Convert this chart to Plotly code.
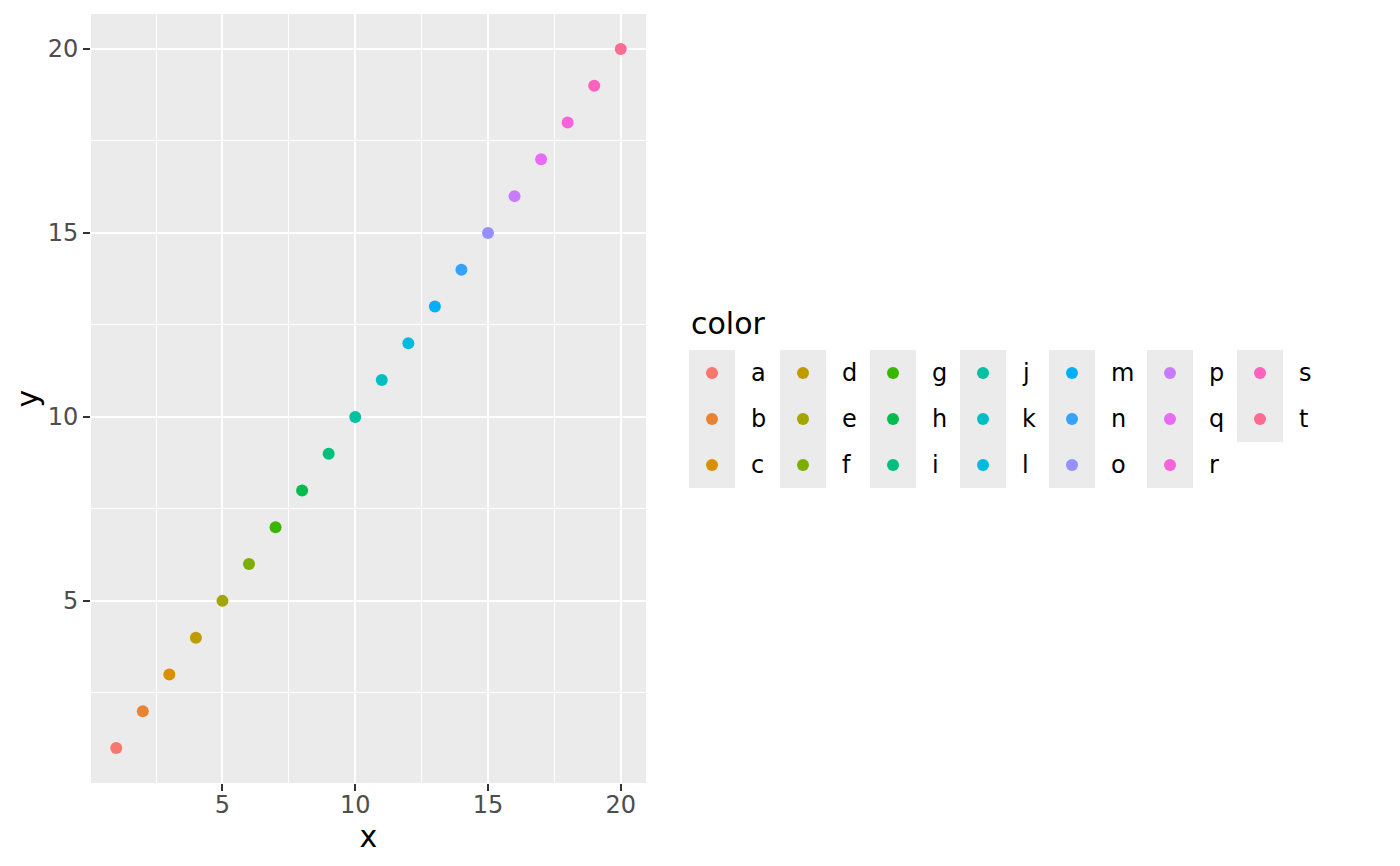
import plotly.graph_objects as go

# the page body adds an 8px margin, so the figure is 16px smaller than the window
OFF = 8
W, H = 1400 - 2 * OFF, 866 - 2 * OFF

# data
x_vals = [1, 2, 3, 4, 5, 6, 7, 8, 9, 10, 11, 12, 13, 14, 15, 16, 17, 18, 19, 20]
y_vals = [1, 2, 3, 4, 5, 6, 7, 8, 9, 10, 11, 12, 13, 14, 15, 16, 17, 18, 19, 20]
color_labels = ["a", "b", "c", "d", "e", "f", "g", "h", "i", "j",
                "k", "l", "m", "n", "o", "p", "q", "r", "s", "t"]
# ggplot2 default hue palette for 20 levels
hue_colors = ["#F8766D", "#EA8331", "#D89000", "#C09B00", "#A3A500",
              "#7CAE00", "#39B600", "#00BB4E", "#00BF7D", "#00C1A3",
              "#00BFC4", "#00BAE0", "#00B0F6", "#35A2FF", "#9590FF",
              "#C77CFF", "#E76BF3", "#FA62DB", "#FF62BC", "#FF6C91"]
x_ticks = [5, 10, 15, 20]
y_ticks = [5, 10, 15, 20]
x_minor = [2.5, 7.5, 12.5, 17.5]
y_minor = [2.5, 7.5, 12.5, 17.5]
x_range = [0.05, 20.95]
y_range = [0.05, 20.95]

# layout (pixels, measured on the 1400x866 page, shifted by OFF)
PL, PR, PT, PB = 91 - OFF, 646 - OFF, 14 - OFF, 783 - OFF
FONT = "DejaVu Sans"
PANEL = "#EBEBEB"
LEG_COL_LEFT = [c - OFF for c in [689, 780, 870, 960, 1049, 1147, 1237]]
LEG_TOP = 350 - OFF
LEG_TITLE_Y = 323 - OFF
KEY = 46
N_ROWS = 3
LABEL_GAP = 14

color_map = dict(zip(color_labels, hue_colors))

fig = go.Figure()

fig.add_trace(go.Scatter(
    x=x_vals, y=y_vals,
    mode="markers",
    marker=dict(color=[color_map[c] for c in color_labels], size=12, line=dict(width=0)),
    customdata=color_labels,
    hovertemplate="x=%{x}<br>y=%{y}<br>color=%{customdata}<extra></extra>",
    showlegend=False,
))

# --- hand-built ggplot-style legend (column-major, 3 rows) ---
key_x, key_y = [], []
shapes = [dict(type="rect", xref="x domain", yref="y domain", x0=0, x1=1, y0=0, y1=1,
               fillcolor=PANEL, line=dict(width=0), layer="below")]
annotations = []
for i, lab in enumerate(color_labels):
    c, r = divmod(i, N_ROWS)
    cx = LEG_COL_LEFT[c] + KEY / 2
    cy = LEG_TOP + r * KEY + KEY / 2
    key_x.append(cx)
    key_y.append(cy)
    annotations.append(dict(
        x=LEG_COL_LEFT[c] + KEY + LABEL_GAP, y=cy, xref="x2", yref="y2",
        text=lab, showarrow=False, xanchor="left", yanchor="middle",
        font=dict(family=FONT, size=24, color="black"),
    ))

n_cols = (len(color_labels) + N_ROWS - 1) // N_ROWS
for c in range(n_cols):
    rows = min(N_ROWS, len(color_labels) - c * N_ROWS)
    shapes.append(dict(
        type="rect", xref="x2", yref="y2",
        x0=LEG_COL_LEFT[c], x1=LEG_COL_LEFT[c] + KEY,
        y0=LEG_TOP, y1=LEG_TOP + rows * KEY,
        fillcolor=PANEL, line=dict(width=0), layer="below",
    ))

annotations.append(dict(
    x=LEG_COL_LEFT[0], y=LEG_TITLE_Y, xref="x2", yref="y2",
    text="color", showarrow=False, xanchor="left", yanchor="middle",
    font=dict(family=FONT, size=30, color="black"),
))

fig.add_trace(go.Scatter(
    x=key_x, y=key_y,
    mode="markers",
    marker=dict(color=[color_map[c] for c in color_labels], size=12, line=dict(width=0)),
    xaxis="x2", yaxis="y2",
    hoverinfo="skip",
    showlegend=False,
))

axis_common = dict(
    showgrid=True, gridcolor="white", gridwidth=2,
    zeroline=False, showline=False,
    ticks="outside", ticklen=7, tickwidth=2, tickcolor="#333333",
    tickfont=dict(family=FONT, size=24, color="#4D4D4D"),
    automargin=False,
)

fig.update_layout(
    width=W, height=H,
    margin=dict(l=0, r=0, t=0, b=0),
    paper_bgcolor="white",
    plot_bgcolor="rgba(0,0,0,0)",
    font=dict(family=FONT),
    showlegend=False,
    xaxis=dict(
        domain=[PL / W, PR / W], range=x_range, tickvals=x_ticks,
        minor=dict(tickvals=x_minor, showgrid=True, gridcolor="white", gridwidth=1, ticks=""),
        title=dict(text="x", font=dict(family=FONT, size=30, color="black"), standoff=6),
        ticklabelstandoff=-7,
        anchor="y",
        **axis_common,
    ),
    yaxis=dict(
        domain=[(H - PB) / H, (H - PT) / H], range=y_range, tickvals=y_ticks,
        minor=dict(tickvals=y_minor, showgrid=True, gridcolor="white", gridwidth=1, ticks=""),
        title=dict(text="y", font=dict(family=FONT, size=30, color="black"), standoff=0),
        anchor="x",
        **axis_common,
    ),
    xaxis2=dict(domain=[0, 1], range=[0, W], visible=False, fixedrange=True, anchor="y2"),
    yaxis2=dict(domain=[0, 1], range=[H, 0], visible=False, fixedrange=True, anchor="x2"),
    shapes=shapes,
    annotations=annotations,
)

fig.write_html("out.html")
